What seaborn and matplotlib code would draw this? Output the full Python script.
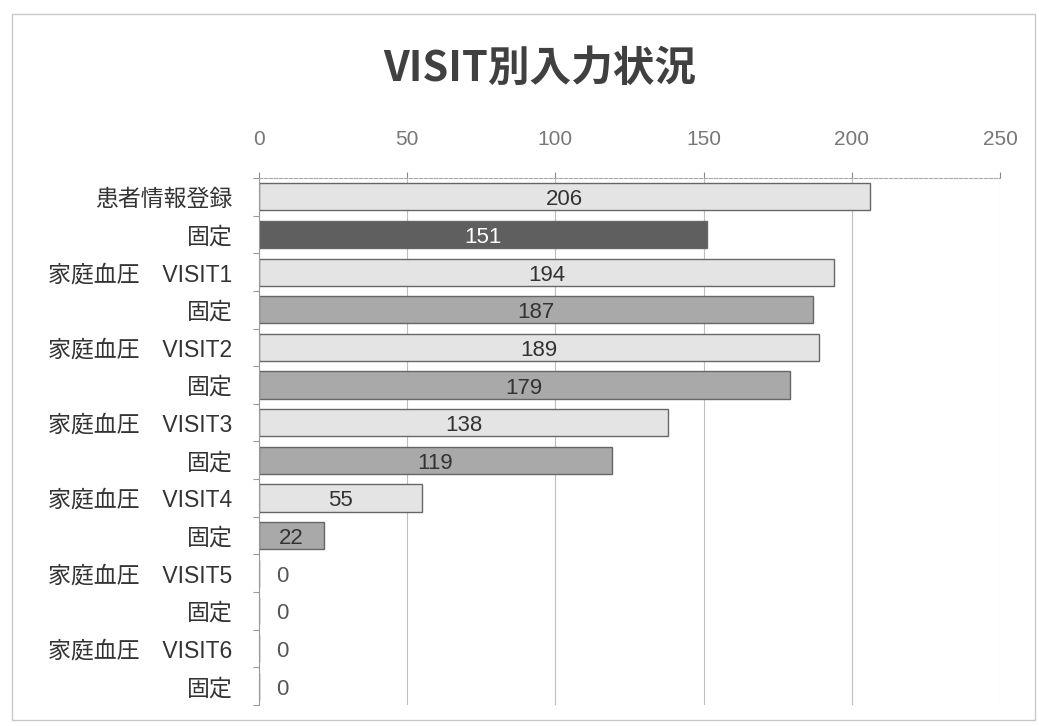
import matplotlib
matplotlib.use("Agg")
import matplotlib.pyplot as plt
import seaborn as sns
import pandas as pd
import numpy as np
from matplotlib.patches import Rectangle
from matplotlib.ticker import FixedLocator

sns.set_theme(style="white")
plt.rcParams['font.family'] = ['Liberation Sans', 'Noto Sans CJK JP', 'DejaVu Sans']

title = "VISIT別入力状況"
labels = ["患者情報登録", "固定", "家庭血圧　VISIT1", "固定", "家庭血圧　VISIT2", "固定",
          "家庭血圧　VISIT3", "固定", "家庭血圧　VISIT4", "固定", "家庭血圧　VISIT5", "固定",
          "家庭血圧　VISIT6", "固定"]
values = [206, 151, 194, 187, 189, 179, 138, 119, 55, 22, 0, 0, 0, 0]
bar_colors = ["#e4e4e4", "#5f5f5f", "#e4e4e4", "#a9a9a9", "#e4e4e4", "#a9a9a9",
              "#e4e4e4", "#a9a9a9", "#e4e4e4", "#a9a9a9", "#e4e4e4", "#a9a9a9",
              "#e4e4e4", "#a9a9a9"]
label_colors = ["#333333", "#ffffff"] + ["#333333"] * 12
xticks = [0, 50, 100, 150, 200, 250]

keys = [f"r{i}" for i in range(len(labels))]
df = pd.DataFrame({"key": keys, "value": values})

fig = plt.figure(figsize=(10.39, 7.26), dpi=100)
ax = fig.add_axes([259/1039, 1-705/726, (1000-259)/1039, (705-178)/726])

sns.barplot(data=df, y="key", x="value", hue="key", palette=dict(zip(keys, bar_colors)),
            legend=False, orient="h", width=0.72, edgecolor="#666666", linewidth=1.0, ax=ax,
            order=keys)

ax.set_xlim(0, 250)
ax.set_ylim(len(labels) - 0.5, -0.5)
ax.xaxis.tick_top()
ax.set_xticks(xticks)
ax.set_xticklabels([str(t) for t in xticks], fontsize=15, color="#777777")
ax.tick_params(axis="x", which="major", length=4, width=0.8, color="#888888", pad=17, top=True, bottom=False)
ax.set_yticks(range(len(labels)))
ax.set_yticklabels(labels, fontsize=16.5, color="#333333")
ax.tick_params(axis="y", which="major", length=0, pad=19)
ax.yaxis.set_minor_locator(FixedLocator(np.arange(-0.5, len(labels), 1.0)))
ax.tick_params(axis="y", which="minor", left=True, length=4, width=0.8, color="#999999")
ax.set_xlabel("")
ax.set_ylabel("")

ax.grid(axis="x", color="#bdbdbd", linewidth=0.8)
ax.set_axisbelow(True)
for s in ["right", "bottom"]:
    ax.spines[s].set_visible(False)
ax.spines["left"].set_color("#999999")
ax.spines["left"].set_linewidth(0.8)
ax.spines["top"].set_color("#aaaaaa")
ax.spines["top"].set_linewidth(0.8)
ax.spines["top"].set_linestyle((0, (3, 1.5)))

for i, v in enumerate(values):
    xpos = v / 2 if v > 0 else 8
    ax.text(xpos, i + 0.08, str(v), ha="center", va="center", fontsize=16,
            color=label_colors[i] if v > 0 else "#555555")

fig.text(540/1039, 1-69/726, title, ha="center", va="center", fontsize=30,
         fontweight="bold", color="#404040", family=['Noto Sans CJK JP', 'DejaVu Sans'])

fig.patches.append(Rectangle((12/1039, 1-720/726), (1035-12)/1039, (720-14)/726,
                             transform=fig.transFigure, fill=False, edgecolor="#c8c8c8",
                             linewidth=1.0))

fig.savefig("out.png", dpi=100)
